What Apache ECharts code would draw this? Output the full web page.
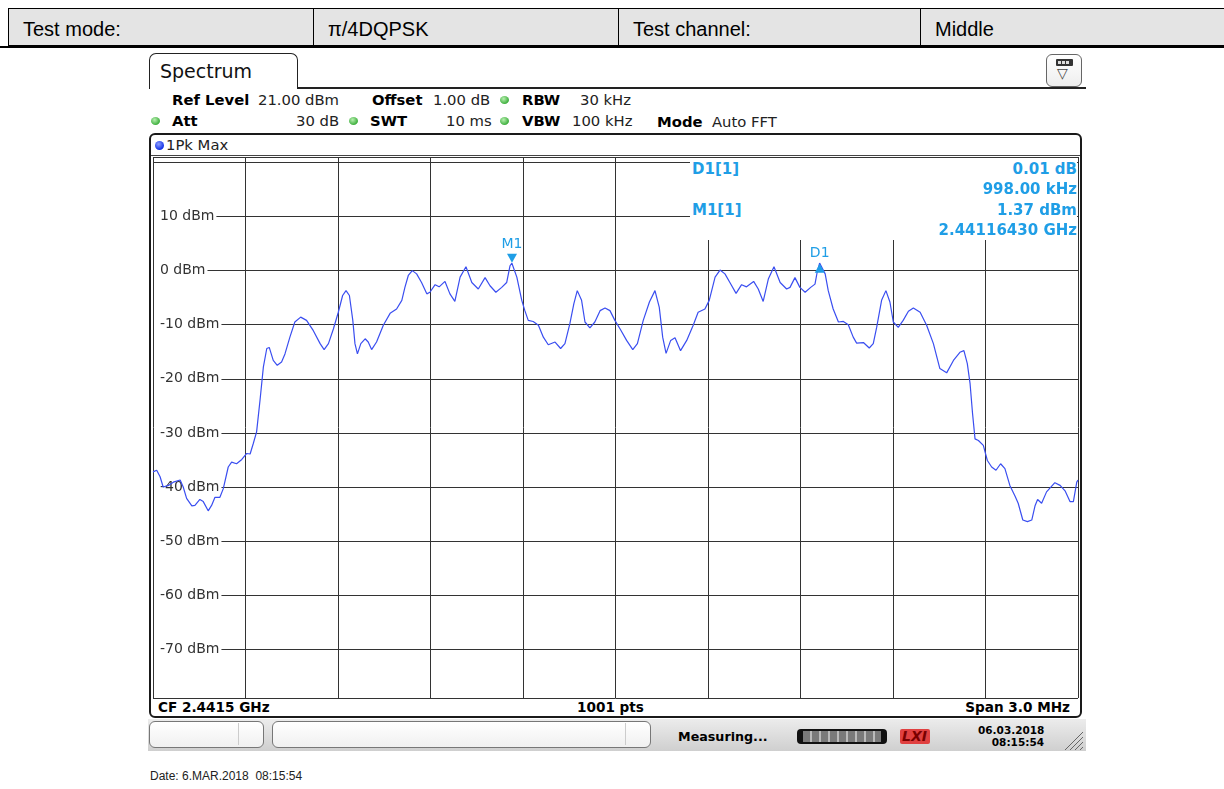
<!DOCTYPE html>
<html>
<head>
<meta charset="utf-8">
<script src="https://cdn.jsdelivr.net/npm/echarts@6/dist/echarts.min.js"></script>
<style>
html,body{margin:0;padding:0;background:#fff;width:1224px;height:789px;overflow:hidden;}
.abs{position:absolute;white-space:nowrap;}
#chart{position:absolute;left:0;top:0;width:1224px;height:789px;z-index:5;}
.cell{position:absolute;top:8px;height:38px;line-height:40px;background:#e4e4e4;border:1px solid #000;box-sizing:border-box;font-family:"Liberation Sans",Arial,sans-serif;font-size:20px;color:#000;padding-left:14px;}
.hd{position:absolute;font-family:"DejaVu Sans",sans-serif;font-size:14.8px;color:#222;line-height:16px;white-space:nowrap;}
.b{font-weight:bold;color:#000;}
.gdot{position:absolute;width:9px;height:8px;border-radius:50%;background:radial-gradient(circle at 40% 35%,#b8f0b0,#3cae3c 70%);}
.mk{position:absolute;font-family:"DejaVu Sans",sans-serif;font-size:15px;font-weight:bold;color:#1f9ee6;line-height:16px;white-space:nowrap;}
.bt{position:absolute;font-family:"DejaVu Sans",sans-serif;font-size:13.6px;font-weight:bold;color:#000;line-height:16px;white-space:nowrap;}
</style>
</head>
<body>
<!-- header table -->
<div class="cell" style="left:8px;width:306px;">Test mode:</div>
<div class="cell" style="left:313px;width:306px;">π/4DQPSK</div>
<div class="cell" style="left:618px;width:303px;">Test channel:</div>
<div class="cell" style="left:920px;width:320px;">Middle</div>
<div class="abs" style="left:0;top:46px;width:1224px;height:2px;background:#000;"></div>

<!-- instrument screenshot background -->
<div class="abs" style="left:148px;top:48px;width:938px;height:703px;background:#fff;"></div>
<!-- Spectrum tab -->
<div class="abs" style="left:149px;top:53px;width:149px;height:36px;border:1.5px solid #222;border-bottom:none;border-radius:7px 7px 0 0;box-sizing:border-box;"></div>
<div class="abs" style="left:297px;top:87px;width:789px;height:2px;background:#222;"></div>
<div class="abs" style="left:160px;top:60px;font-family:'DejaVu Sans',sans-serif;font-size:19px;color:#111;line-height:22px;">Spectrum</div>
<!-- top-right icon -->
<div class="abs" style="left:1046px;top:54px;width:36px;height:33px;border:1.2px solid #666;border-radius:6px;box-sizing:border-box;background:linear-gradient(#fff,#eee);"></div>
<div class="abs" style="left:1056px;top:59px;width:17px;height:7px;background:#333;border-radius:1px;"></div>
<div class="abs" style="left:1058px;top:61px;width:3px;height:3px;background:#ddd;"></div>
<div class="abs" style="left:1062px;top:61px;width:3px;height:3px;background:#ddd;"></div>
<div class="abs" style="left:1066px;top:61px;width:3px;height:3px;background:#ddd;"></div>
<div class="abs" style="left:1057px;top:65px;font-family:'DejaVu Sans',sans-serif;font-size:14px;color:#444;line-height:17px;">▽</div>

<!-- header parameter rows -->
<div class="hd b" style="left:172px;top:92px;">Ref Level</div>
<div class="hd" style="left:258px;top:92px;">21.00 dBm</div>
<div class="hd b" style="left:372px;top:92px;">Offset</div>
<div class="hd" style="left:433px;top:92px;">1.00 dB</div>
<div class="gdot" style="left:500px;top:96px;"></div>
<div class="hd b" style="left:522px;top:92px;">RBW</div>
<div class="hd" style="left:580px;top:92px;">30 kHz</div>

<div class="gdot" style="left:151px;top:117px;"></div>
<div class="hd b" style="left:172px;top:113px;">Att</div>
<div class="hd" style="left:296px;top:113px;">30 dB</div>
<div class="gdot" style="left:349px;top:117px;"></div>
<div class="hd b" style="left:370px;top:113px;">SWT</div>
<div class="hd" style="left:446px;top:113px;">10 ms</div>
<div class="gdot" style="left:500px;top:117px;"></div>
<div class="hd b" style="left:522px;top:113px;">VBW</div>
<div class="hd" style="left:572px;top:113px;">100 kHz</div>
<div class="hd b" style="left:657px;top:114px;">Mode</div>
<div class="hd" style="left:712px;top:114px;">Auto FFT</div>

<!-- inner diagram box -->
<div class="abs" style="left:149px;top:133px;width:933px;height:585px;border:2px solid #1a1a1a;border-radius:6px;box-sizing:border-box;"></div>
<div class="abs" style="left:155px;top:141px;width:9px;height:9px;border-radius:50%;background:radial-gradient(circle at 40% 35%,#8fa0ff,#1230e6 70%);"></div>
<div class="hd" style="left:166px;top:137px;">1Pk Max</div>
<div class="abs" style="left:151px;top:155px;width:929px;height:1px;background:#444;"></div>

<!-- bottom row -->
<div class="bt" style="left:158px;top:699px;">CF 2.4415 GHz</div>
<div class="bt" style="left:577px;top:699px;">1001 pts</div>
<div class="bt" style="left:870px;top:699px;width:200px;text-align:right;">Span 3.0 MHz</div>

<!-- status bar -->
<div class="abs" style="left:148px;top:719px;width:938px;height:32px;background:linear-gradient(#ececec,#cfcfcf);"></div>
<div class="abs" style="left:149px;top:721px;width:115px;height:27px;border:1px solid #777;border-radius:6px;box-sizing:border-box;background:linear-gradient(#fff,#f0f0f0);"></div>
<div class="abs" style="left:238px;top:723px;width:1px;height:22px;background:#ccc;"></div>
<div class="abs" style="left:272px;top:721px;width:379px;height:27px;border:1px solid #777;border-radius:6px;box-sizing:border-box;background:linear-gradient(#fff,#f0f0f0);"></div>
<div class="abs" style="left:625px;top:723px;width:1px;height:22px;background:#ccc;"></div>
<div class="bt" style="left:678px;top:729px;font-size:12.7px;">Measuring...</div>
<div class="abs" style="left:797px;top:729px;width:90px;height:15px;border-radius:4px;background:#111;"></div>
<div class="abs" style="left:803px;top:731px;width:78px;height:11px;background:repeating-linear-gradient(90deg,#7a7a7a 0 7px,#bbb 7px 9px);"></div>
<div class="abs" style="left:900px;top:729px;width:30px;height:15px;background:#e04040;border-radius:2px;"></div>
<div class="abs" style="left:902px;top:727px;font-family:'DejaVu Sans',sans-serif;font-size:14px;font-weight:bold;font-style:italic;color:#7a0000;line-height:18px;">LXI</div>
<div class="bt" style="left:978px;top:724px;font-size:10.5px;line-height:13px;width:66px;text-align:right;">06.03.2018</div>
<div class="bt" style="left:978px;top:736px;font-size:10.5px;line-height:13px;width:66px;text-align:right;">08:15:54</div>
<svg class="abs" style="left:1064px;top:728px;" width="20" height="22">
<line x1="19" y1="4" x2="1" y2="22" stroke="#666" stroke-width="1"/>
<line x1="19" y1="9" x2="6" y2="22" stroke="#666" stroke-width="1"/>
<line x1="19" y1="14" x2="11" y2="22" stroke="#666" stroke-width="1"/>
<line x1="19" y1="19" x2="16" y2="22" stroke="#666" stroke-width="1"/>
</svg>

<!-- date line -->
<div class="abs" style="left:150px;top:768px;font-family:'Liberation Sans',Arial,sans-serif;font-size:12px;color:#222;line-height:16px;white-space:pre;">Date: 6.MAR.2018  08:15:54</div>

<div id="chart"></div>

<!-- marker info panel (masks grid region) -->
<div class="abs" style="left:690px;top:158px;width:387px;height:82px;background:#fff;z-index:6;"></div>
<div class="mk" style="left:692px;top:161px;z-index:7;">D1[1]</div>
<div class="mk" style="left:692px;top:202px;z-index:7;">M1[1]</div>
<div class="mk" style="left:800px;top:161px;width:277px;text-align:right;z-index:7;">0.01 dB</div>
<div class="mk" style="left:800px;top:181px;width:277px;text-align:right;z-index:7;">998.00 kHz</div>
<div class="mk" style="left:800px;top:202px;width:277px;text-align:right;z-index:7;">1.37 dBm</div>
<div class="mk" style="left:800px;top:222px;width:277px;text-align:right;z-index:7;">2.44116430 GHz</div>

<script>
// Frequency offset from centre frequency 2.4415 GHz, in kHz (span 3.0 MHz)
var freqOffsetKHz = [
-1500,-1488,-1477,-1467,-1450,-1434,-1412,-1402,-1391,-1374,-1364,-1348,-1337,-1321,-1310,-1299,-1283,-1272,-1256,-1245,
-1229,-1212,-1196,-1185,-1175,-1164,-1153,-1142,-1131,-1123,-1110,-1097,-1083,-1072,-1056,-1040,-1021,-1002,-980,-958,
-945,-931,-915,-899,-885,-874,-863,-852,-845,-837,-826,-812,-802,-791,-775,-753,-731,-710,-693,-683,
-672,-659,-645,-629,-612,-602,-585,-572,-553,-537,-521,-504,-485,-466,-445,-423,-407,-388,-369,-353,
-342,-336,-320,-304,-294,-283,-267,-250,-234,-218,-196,-178,-164,-148,-135,-124,-110,-99,-83,-67,
-50,-34,-18,-2,15,36,56,71,90,110,128,142,153,164,179,193,211,231,252,268,
290,304,323,339,355,371,391,409,425,448,463,479,496,514,534,555,566,582,598,615,
633,647,654,662,680,690,706,723,739,755,771,782,804,823,836,847,863,877,890,901,
917,933,950,966,988,1009,1031,1052,1074,1096,1117,1130,1141,1150,1158,1166,1177,1193,1206,1220,
1234,1249,1263,1279,1296,1306,1321,1336,1350,1361,1369,1382,1398,1425,1442,1458,1474,1485,1496,1500
];
// Trace 1 (1Pk Max) level in dBm
var traceDbm = [
-37.2,-36.9,-38.1,-40.0,-39.7,-39.1,-38.7,-40.0,-42.1,-43.5,-43.4,-42.3,-42.7,-44.4,-43.4,-41.9,-41.9,-40.3,-36.3,-35.4,
-35.7,-34.9,-33.8,-33.9,-32.0,-29.8,-24.0,-17.8,-14.4,-14.2,-16.6,-17.5,-16.9,-15.4,-12.3,-9.5,-8.6,-9.2,-11.1,-13.5,
-14.6,-13.5,-10.8,-7.7,-4.6,-3.7,-4.6,-9.2,-13.5,-15.4,-13.5,-12.6,-13.2,-14.6,-13.2,-10.1,-7.9,-7.1,-5.5,-3.1,
-0.9,0.0,-0.6,-2.2,-4.3,-4.0,-2.6,-3.0,-2.0,-4.3,-5.7,-1.2,0.7,-2.2,-3.4,-1.3,-2.8,-4.0,-3.1,-2.2,
0.9,1.37,-1.2,-5.5,-7.4,-9.2,-9.4,-10.1,-12.3,-13.7,-13.2,-14.4,-13.5,-9.8,-6.1,-3.7,-5.5,-9.5,-10.6,-9.5,
-7.4,-6.9,-7.4,-9.2,-10.8,-12.9,-14.6,-13.5,-9.2,-5.8,-3.7,-6.8,-12.3,-15.3,-12.9,-12.4,-14.8,-12.9,-10.1,-7.7,
-7.1,-5.5,-1.2,0.1,-0.6,-2.2,-4.2,-2.6,-3.0,-2.0,-3.4,-5.7,-1.5,0.7,-2.2,-3.4,-3.1,-1.3,-3.1,-4.0,
-3.1,-2.5,-0.3,1.38,-0.6,-3.7,-7.1,-9.5,-9.4,-10.0,-12.3,-13.4,-13.3,-14.3,-13.5,-10.5,-5.5,-3.7,-5.8,-9.5,
-10.5,-9.2,-7.5,-6.9,-7.7,-10.1,-13.5,-18.1,-18.9,-16.6,-15.1,-14.8,-17.2,-20.9,-26.4,-31.1,-31.4,-32.3,-35.1,-36.3,
-36.9,-35.7,-36.6,-39.7,-41.7,-43.0,-46.1,-46.4,-46.1,-43.4,-42.3,-43.0,-40.9,-39.2,-39.7,-40.7,-42.7,-42.7,-39.1,-38.7
];
// Y-axis labelled levels (dBm)
var yLabelValues = [10, 0, -10, -20, -30, -40, -50, -60, -70];
// Markers
var markerNames = ['M1', 'D1'];
var markerFreqKHz = [-335.7, 662.3];
var markerDbm = [1.37, 1.38];

var chart = echarts.init(document.getElementById('chart'), null, {renderer: 'canvas'});
var seriesData = freqOffsetKHz.map(function (f, i) { return [f, traceDbm[i]]; });
var markerColor = '#1f9ee6';

chart.setOption({
  animation: false,
  grid: {left: 153, right: 146, top: 157, bottom: 91, show: false},
  xAxis: {
    type: 'value', min: -1500, max: 1500, interval: 300,
    axisLine: {show: false}, axisTick: {show: false}, axisLabel: {show: false},
    splitLine: {show: true, lineStyle: {color: '#333', width: 1}}
  },
  yAxis: {
    type: 'value', min: -79, max: 21, splitNumber: 10,
    axisLine: {show: false}, axisTick: {show: false},
    axisLabel: {
      inside: true, margin: 1,
      customValues: yLabelValues,
      color: '#333', fontFamily: 'DejaVu Sans', fontSize: 14,
      backgroundColor: '#fff', padding: [1, 2, 1, 6],
      formatter: function (v) { return v + ' dBm'; }
    },
    splitLine: {show: true, lineStyle: {color: '#333', width: 1}}
  },
  series: [{
    type: 'line', data: seriesData, showSymbol: false, symbol: 'none',
    lineStyle: {color: '#3a4ef0', width: 1.2}, z: 3,
    markPoint: {
      silent: true,
      data: [
        {name: markerNames[0], coord: [markerFreqKHz[0], markerDbm[0]], symbol: 'triangle', symbolRotate: 180,
         symbolSize: [10, 9], symbolOffset: [0, -5], itemStyle: {color: markerColor},
         label: {show: true, formatter: markerNames[0], position: 'top', distance: 2, color: markerColor, fontFamily: 'DejaVu Sans', fontSize: 14}},
        {name: markerNames[1], coord: [markerFreqKHz[1], markerDbm[1]], symbol: 'triangle',
         symbolSize: [10, 9], symbolOffset: [0, 5], itemStyle: {color: markerColor},
         label: {show: true, formatter: markerNames[1], position: 'top', distance: 3, color: markerColor, fontFamily: 'DejaVu Sans', fontSize: 14}}
      ]
    }
  }]
});
</script>
</body>
</html>
